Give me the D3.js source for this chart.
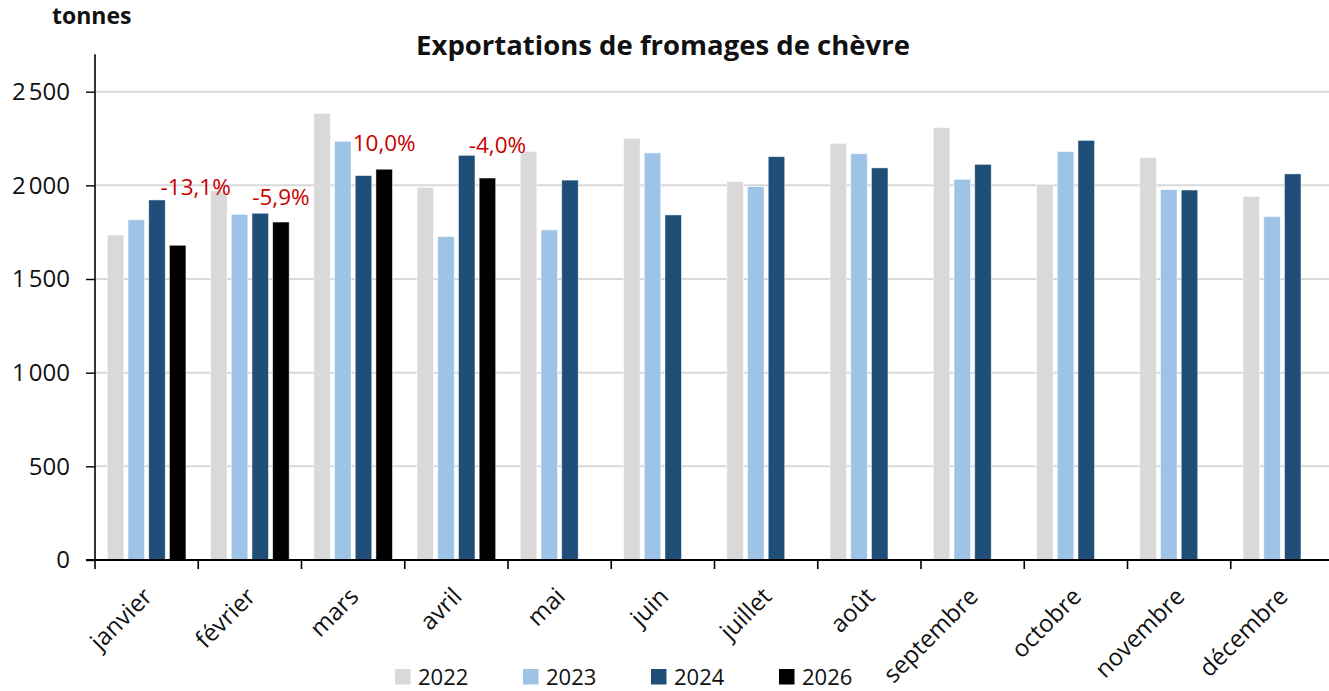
<!DOCTYPE html>
<html><head><meta charset="utf-8">
<script src="https://cdn.jsdelivr.net/npm/d3@7"></script>
<style>
html,body{margin:0;padding:0;background:#fff;overflow:hidden}
text{font-family:"Open Sans","Noto Sans",sans-serif}
</style></head>
<body><svg id="chart" width="1329" height="691"></svg>
<script>
const months = ["janvier","février","mars","avril","mai","juin","juillet","août","septembre","octobre","novembre","décembre"];
const years = ["2022","2023","2024","2026"];
const v2022 = [1735,1971,2384,1989,2180,2251,2020,2224,2308,2005,2148,1940];
const v2023 = [1816,1845,2235,1726,1762,2173,1993,2169,2032,2180,1977,1833];
const v2024 = [1922,1851,2052,2160,2028,1842,2153,2093,2112,2240,1975,2061];
const v2026 = [1680,1804,2086,2039,null,null,null,null,null,null,null,null];
const pctLabels = ["-13,1%","-5,9%","10,0%","-4,0%"];
const yTicks = [0,500,1000,1500,2000,2500];

const colors = ["#d9d9d9","#9dc3e6","#1f4e79","#000000"];
const labelShift = [[18,-58],[0,-25],[0,-26],[10,-33]];

const series = [v2022,v2023,v2024,v2026];
const svg = d3.select("#chart");
const mLeft = 95, mBottom = 560, mTop = 54.2;
const x = d3.scaleBand().domain(months).range([mLeft, mLeft + 12*103.25]).paddingInner(0).paddingOuter(0);
const y = d3.scaleLinear().domain([0,2700]).range([mBottom, mTop]);
const step = 20.7, bw = 16.5;
const groupW = 3*step + bw;
const fmt = v => v >= 1000 ? d3.format(",")(v).replace(",", "\u202F") : String(v);

// gridlines
svg.append("g").selectAll("line").data(yTicks.filter(d=>d>0)).join("line")
  .attr("x1", mLeft).attr("x2", 1329).attr("y1", d=>y(d)).attr("y2", d=>y(d))
  .attr("stroke","#d9d9d9").attr("stroke-width",2);

// bars
series.forEach((s, si) => {
  svg.append("g").selectAll("rect").data(months.map((m,i)=>({m, v:s[i]})).filter(d=>d.v!=null)).join("rect")
    .attr("x", d => x(d.m) + (x.bandwidth()-groupW)/2 + si*step)
    .attr("width", bw)
    .attr("y", d => y(d.v))
    .attr("height", d => mBottom - y(d.v))
    .attr("fill", colors[si])
    .attr("stroke", "#ffffff").attr("stroke-opacity",0.6).attr("stroke-width",0.8);
});

// y axis
const yAxis = d3.axisLeft(y).tickValues(yTicks).tickSize(9).tickPadding(16).tickFormat(fmt);
const gy = svg.append("g").attr("transform",`translate(${mLeft},0)`).call(yAxis);
gy.select(".domain").attr("stroke","#000").attr("stroke-width",1.6).attr("d",`M0,${mTop}V${mBottom}`);
gy.selectAll(".tick line").attr("stroke","#000").attr("stroke-width",1.4);
gy.selectAll(".tick text").attr("font-size",24).attr("fill","#111").attr("font-family","Open Sans");

// x axis
const xAxis = d3.axisBottom(x).tickSize(0).tickFormat("");
const gx = svg.append("g").attr("transform",`translate(0,${mBottom})`).call(xAxis);
gx.select(".domain").attr("stroke","#000").attr("stroke-width",1.8).attr("d",`M${mLeft-9},0H1334`);
gx.append("g").selectAll("line").data(months).join("line")
  .attr("x1", d=>x(d)).attr("x2", d=>x(d)).attr("y1",0).attr("y2",9)
  .attr("stroke","#000").attr("stroke-width",1.6);
gx.append("g").selectAll("text").data(months).join("text")
  .attr("transform", d => `translate(${x(d)+x.bandwidth()/2+7},${38}) rotate(-45)`)
  .attr("text-anchor","end").attr("font-size",24).attr("fill","#111").text(d=>d);

// percentage labels
svg.append("g").selectAll("text").data(pctLabels).join("text")
  .attr("x", (d,i) => x(months[i]) + (x.bandwidth()-groupW)/2 + 3*step + bw/2 + labelShift[i][0])
  .attr("y", (d,i) => y(v2026[i]) + labelShift[i][1] + 8)
  .attr("text-anchor","middle").attr("font-size",22.5).attr("fill","#c80000").text(d=>d);

// title & unit
svg.append("text").attr("x",663).attr("y",55).attr("text-anchor","middle")
  .attr("font-size",27.5).attr("font-weight","bold").attr("fill","#111").text("Exportations de fromages de chèvre");
svg.append("text").attr("x",52).attr("y",24).attr("font-size",23).attr("font-weight","bold").attr("fill","#111").text("tonnes");

// legend
const lg = svg.append("g").selectAll("g").data(years).join("g")
  .attr("transform",(d,i)=>`translate(${395 + i*128},669)`);
lg.append("rect").attr("width",15.5).attr("height",15.5).attr("fill",(d,i)=>colors[i]);
lg.append("text").attr("x",23).attr("y",15.5).attr("font-size",22).attr("fill","#111").text(d=>d);
</script></body></html>
